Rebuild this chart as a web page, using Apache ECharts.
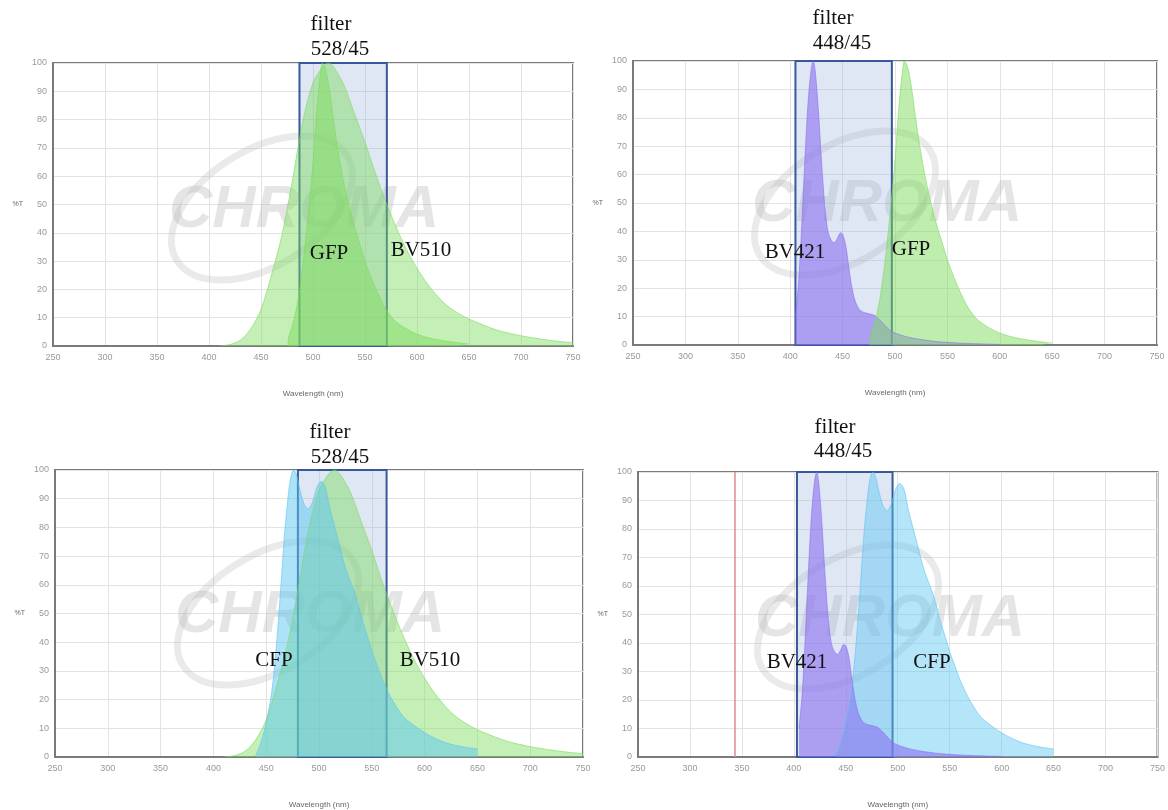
<!DOCTYPE html>
<html>
<head>
<meta charset="utf-8">
<script src="https://cdn.jsdelivr.net/npm/echarts@6/dist/echarts.min.js"></script>
<style>
  html, body { margin: 0; padding: 0; background: #fff; }
  #main { width: 1168px; height: 810px; }
</style>
</head>
<body>
<div id="main"></div>
<script>
// emission spectra [wavelength nm, %T]
var bv510 = [[410,0],[420,0.5],[430,2],[440,6],[450,13],[460,25],[470,39],[480,58],[490,79],[500,93],[510,99],[515,100],[520,98.5],[530,92],[540,82],[550,72],[560,61],[570,51],[580,42],[590,34],[600,27.5],[610,22],[620,17.5],[630,14],[640,11.5],[650,9.5],[660,8],[670,6.5],[680,5.3],[690,4.4],[700,3.6],[710,3],[720,2.4],[730,1.9],[740,1.5],[750,1.2]];
var gfp = [[476,0],[476.5,3],[480,7],[485,15],[490,28],[495,45],[500,65],[504,85],[507,96],[509,100],[512,98],[516,90],[520,79],[525,67],[530,57],[535,49],[540,42],[545,36],[550,30],[555,25],[560,20.5],[565,16.5],[570,13],[575,10.5],[580,8.5],[590,6],[600,4.2],[610,3],[620,2.2],[630,1.6],[640,1.1],[650,0.7]];
var bv421 = [[405,10],[408,22],[411,42],[414,65],[417,85],[420,97],[422,100],[424,96],[427,82],[430,64],[433,49],[436,40],[439,37],[442,36],[445,37.5],[448,39.5],[450,39],[453,35],[456,27],[459,20],[462,15.5],[466,12.5],[470,11.5],[475,11],[480,10.5],[485,9],[490,7],[495,5.2],[500,4.2],[510,3],[520,2.2],[540,1.2],[560,0.7],[580,0.4],[600,0.2]];
var cfp = [[440,0.5],[445,5],[450,12],[455,22],[458,32],[461,45],[464,60],[467,76],[470,88],[473,97],[476,100],[479,98],[482,93],[486,88],[490,86.5],[494,89],[498,94],[502,96],[506,94],[510,87],[515,80],[520,73],[525,66],[530,61],[535,56],[540,49],[545,43],[550,37],[555,32],[560,27],[565,23],[570,19.5],[580,14],[590,11],[600,8.5],[610,6.5],[620,5],[630,4],[640,3.3],[650,2.8]];

// filter boxes as drawn (nm)
var filterA = [487, 571];   // 528/45 top
var filterB = [405, 497];   // 448/45 top
var filterC = [480, 564];   // 528/45 bottom
var filterD = [403, 495];   // 448/45 bottom
var laserLine = 343;

var filterNames = ["528/45", "448/45", "528/45", "448/45"];

var myChart = echarts.init(document.getElementById("main"));

// plot rectangles [left, top, width, height]
var grids = [
  [53, 63, 520, 283],
  [633, 61, 524, 284],
  [55, 470, 528, 287],
  [638, 472, 522, 286],
];

function xAxisOf(i) {
  return {
    type: "value",
    gridIndex: i,
    min: 250,
    max: 750,
    interval: 50,
    name: "Wavelength (nm)",
    nameLocation: "middle",
    nameGap: 44,
    nameTextStyle: { fontSize: 8, color: "#666", fontFamily: "Liberation Sans" },
    axisLine: { show: true, lineStyle: { color: "#7a7a7a", width: 2 } },
    axisTick: { show: false },
    axisLabel: { fontSize: 9, color: "#999", margin: 7, fontFamily: "Liberation Sans" },
    splitLine: { show: true, lineStyle: { color: "#e3e3e3", width: 1 } },
  };
}
function yAxisOf(i) {
  return {
    type: "value",
    gridIndex: i,
    min: 0,
    max: 100,
    interval: 10,
    name: "%T",
    nameLocation: "middle",
    nameRotate: 0,
    nameGap: 30,
    nameTextStyle: { fontSize: 7, color: "#666", fontFamily: "Liberation Sans", padding: [0, 0, 28, 0] },
    axisLine: { show: true, lineStyle: { color: "#7a7a7a", width: 2 } },
    axisTick: { show: false },
    axisLabel: { fontSize: 9, color: "#999", margin: 6, fontFamily: "Liberation Sans" },
    splitLine: { show: true, lineStyle: { color: "#e3e3e3", width: 1 } },
  };
}

function spectrum(name, data, i, color, alpha) {
  return {
    name: name,
    type: "line",
    xAxisIndex: i,
    yAxisIndex: i,
    data: data,
    smooth: 0.3,
    symbol: "none",
    z: 3,
    lineStyle: { color: color, width: 1, opacity: 0.6 },
    areaStyle: { color: color, opacity: alpha },
  };
}

function filterBox(range, i) {
  return {
    name: "filter",
    type: "line",
    xAxisIndex: i,
    yAxisIndex: i,
    data: [[range[0], 0], [range[1], 0]],
    symbol: "none",
    lineStyle: { opacity: 0 },
    z: 5,
    silent: true,
    markArea: {
      silent: true,
      itemStyle: {
        color: "rgba(150,172,220,0.3)",
        borderColor: "#37589a",
        borderWidth: 2,
      },
      data: [[{ xAxis: range[0], yAxis: 0 }, { xAxis: range[1], yAxis: 100 }]],
    },
  };
}

var green = "#7ddc5e";
var purple = "#8a70f0";
var blue = "#5cc6f2";

var series = [
  spectrum("BV510", bv510, 0, green, 0.45),
  spectrum("GFP", gfp, 0, green, 0.5),
  filterBox(filterA, 0),

  spectrum("BV421", bv421, 1, purple, 0.6),
  spectrum("GFP", gfp, 1, green, 0.5),
  filterBox(filterB, 1),

  spectrum("BV510", bv510, 2, green, 0.45),
  spectrum("CFP", cfp, 2, blue, 0.5),
  filterBox(filterC, 2),

  spectrum("CFP", cfp, 3, blue, 0.45),
  spectrum("BV421", bv421, 3, purple, 0.6),
  filterBox(filterD, 3),
];
// laser line on last panel
series[11].markLine = {
  silent: true,
  symbol: "none",
  label: { show: false },
  lineStyle: { color: "#e38a8a", width: 1.5, type: "solid" },
  data: [{ xAxis: laserLine }],
};

// watermark + text labels
var graphic = [];
var marks = [
  { x: 304, y: 210, ex: 262, ey: 208 },
  { x: 887, y: 204, ex: 845, ey: 203 },
  { x: 310, y: 615, ex: 268, ey: 613 },
  { x: 890, y: 619, ex: 848, ey: 617 },
];
marks.forEach(function (m) {
  graphic.push({
    type: "ellipse",
    shape: { cx: 0, cy: 0, rx: 100, ry: 58 },
    x: m.ex,
    y: m.ey,
    rotation: 0.55,
    z: 1,
    silent: true,
    style: { fill: null, stroke: "rgba(185,185,185,0.3)", lineWidth: 7 },
  });
  graphic.push({
    type: "text",
    x: m.x,
    y: m.y,
    z: 1,
    silent: true,
    style: {
      text: "CHROMA",
      font: "italic bold 60px 'Liberation Sans'",
      fill: "rgba(175,175,175,0.32)",
      textAlign: "center",
      textVerticalAlign: "middle",
    },
  });
});

var serifLabels = [
  ["filter", 331, 24], [filterNames[0], 340, 49],
  ["filter", 833, 18], [filterNames[1], 842, 43],
  ["filter", 330, 432], [filterNames[2], 340, 457],
  ["filter", 835, 427], [filterNames[3], 843, 451],
  ["GFP", 329, 253], ["BV510", 421, 250],
  ["BV421", 795, 252], ["GFP", 911, 249],
  ["CFP", 274, 660], ["BV510", 430, 660],
  ["BV421", 797, 662], ["CFP", 932, 662],
];
serifLabels.forEach(function (t) {
  graphic.push({
    type: "text",
    x: t[1],
    y: t[2],
    z: 10,
    silent: true,
    style: {
      text: t[0],
      font: "21px 'Liberation Serif'",
      fill: "#111",
      textAlign: "center",
      textVerticalAlign: "middle",
    },
  });
});

var option = {
  backgroundColor: "#fff",
  animation: false,
  grid: grids.map(function (g) {
    return {
      left: g[0],
      top: g[1],
      width: g[2],
      height: g[3],
      show: true,
      borderColor: "#7a7a7a",
      borderWidth: 2,
      backgroundColor: "transparent",
    };
  }),
  xAxis: [0, 1, 2, 3].map(xAxisOf),
  yAxis: [0, 1, 2, 3].map(yAxisOf),
  series: series,
  graphic: graphic,
};

myChart.setOption(option);
</script>
</body>
</html>
